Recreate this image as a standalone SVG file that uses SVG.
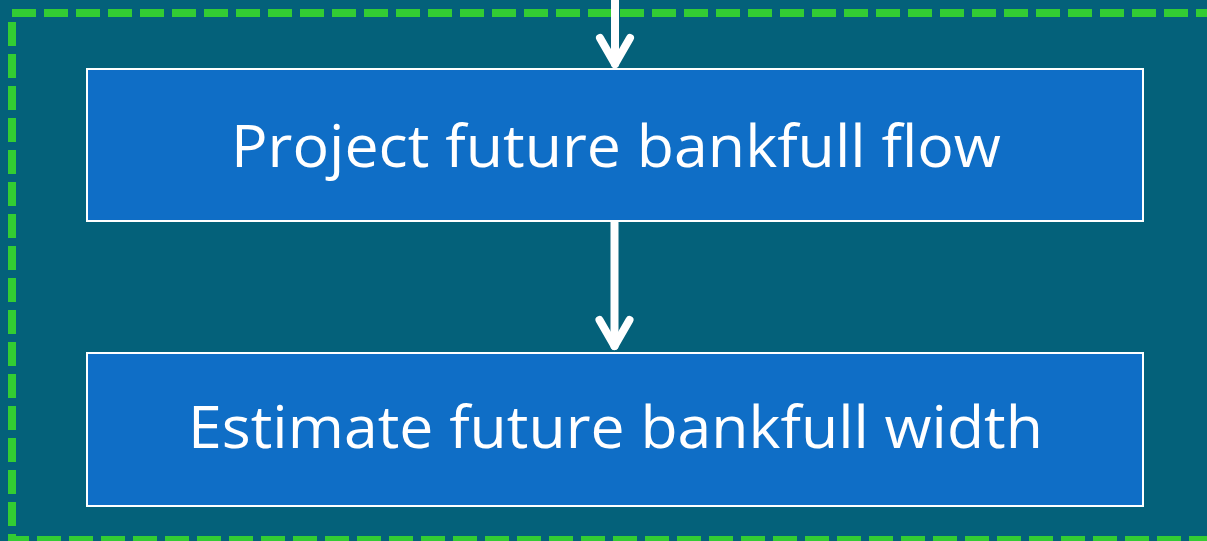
<svg xmlns="http://www.w3.org/2000/svg" width="1207" height="541" viewBox="0 0 1207 541">
<style>
.bg{fill:#04617a}
.box{fill:#0f6ec6;stroke:#ffffff;stroke-width:2}
.lbl{font-family:"Open Sans","Noto Sans","DejaVu Sans",sans-serif;font-size:58px;fill:#ffffff;text-anchor:middle}
.dash{stroke:#33cc33;stroke-width:8;stroke-dasharray:24 8;fill:none}
.conn{stroke:#ffffff;stroke-width:8;fill:none;stroke-linecap:round;stroke-linejoin:round}
</style>
<rect class="bg" x="0" y="0" width="1207" height="541"/>
<g id="frame">
<line class="dash" x1="12" y1="13" x2="1215" y2="13"/>
<line class="dash" x1="12" y1="22" x2="12" y2="545"/>
<line class="dash" x1="8" y1="540" x2="1215" y2="540" stroke-dashoffset="3"/>
</g>
<g id="connectors">
<line class="conn" x1="615" y1="-5" x2="615" y2="64"/>
<polyline class="conn" points="600,38 615,64 630,38"/>
<line class="conn" x1="614.5" y1="222" x2="614.5" y2="346"/>
<polyline class="conn" points="599.5,320 614.5,346 629.5,320"/>
</g>
<g id="node1">
<rect class="box" x="87" y="69" width="1056" height="152"/>
<text class="lbl" x="616" y="167" textLength="770" lengthAdjust="spacingAndGlyphs">Project future bankfull flow</text>
</g>
<g id="node2">
<rect class="box" x="87" y="353" width="1056" height="153"/>
<text class="lbl" x="615.5" y="448" textLength="855" lengthAdjust="spacingAndGlyphs">Estimate future bankfull width</text>
</g>
</svg>
